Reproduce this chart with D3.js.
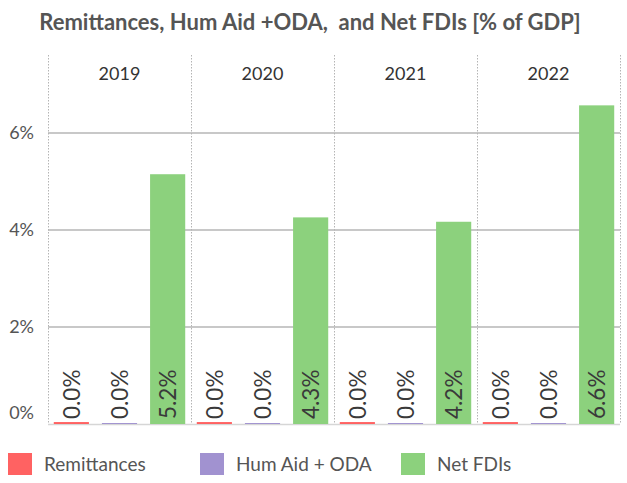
<!DOCTYPE html>
<html>
<head>
<meta charset="utf-8">
<script src="https://cdn.jsdelivr.net/npm/d3@7"></script>
<style>
  body { margin: 0; background: #fff; }
  svg { display: block; font-family: Lato, "Open Sans", sans-serif; }
</style>
</head>
<body>
<svg id="chart" width="627" height="483"></svg>
<script>
// Data: share of GDP (%) by year
const years = ["2019", "2020", "2021", "2022"];
const seriesNames = ["Remittances", "Hum Aid + ODA", "Net FDIs"];
const remittances = [0.04, 0.04, 0.04, 0.04];
const humAidOda = [0.02, 0.02, 0.02, 0.02];
const netFdis = [5.15, 4.26, 4.17, 6.57];
const yTicks = [0, 2, 4, 6];
const colors = ["#ff6262", "#a192d0", "#8cd17d"];

const seriesValues = [remittances, humAidOda, netFdis];
const svg = d3.select("#chart");

const margin = { left: 48, right: 7, top: 55, bottom: 59 };
const W = 627, H = 483;
const plotBottom = H - margin.bottom; // 424

// Title
svg.append("text")
  .attr("x", 310).attr("y", 30)
  .attr("text-anchor", "middle")
  .attr("font-size", 22).attr("font-weight", 700)
  .attr("fill", "#555")
  .style("white-space", "pre")
  .text("Remittances, Hum Aid +ODA,  and Net FDIs [% of GDP]");

const x0 = d3.scaleBand().domain(years).range([margin.left, W - margin.right]).padding(0);
const x1 = d3.scaleBand().domain(seriesNames).range([0, x0.bandwidth()]).paddingInner(0.27).paddingOuter(0.12);
const y = d3.scaleLinear().domain([0, 6.2]).range([plotBottom, plotBottom - 6.2 * 48.5]);

// Horizontal gridlines
svg.append("g").selectAll("line").data(yTicks.filter(d => d > 0)).join("line")
  .attr("x1", margin.left).attr("x2", W - margin.right)
  .attr("y1", d => y(d)).attr("y2", d => y(d))
  .attr("stroke", "#c8c8c8").attr("stroke-width", 2);

// Baseline
svg.append("line")
  .attr("x1", margin.left).attr("x2", W - margin.right)
  .attr("y1", plotBottom + 0.5).attr("y2", plotBottom + 0.5)
  .attr("stroke", "#d6d6d6").attr("stroke-width", 1.5);

// Panel dividers (dotted)
const dividers = years.map(yr => x0(yr)).concat([x0(years[years.length - 1]) + x0.bandwidth()]);
svg.append("g").selectAll("line").data(dividers).join("line")
  .attr("x1", d => Math.round(d) + 0.5).attr("x2", d => Math.round(d) + 0.5)
  .attr("y1", margin.top).attr("y2", plotBottom)
  .attr("stroke", "#b4b4b4").attr("stroke-width", 1).attr("stroke-dasharray", "1.5,1.5");

// Year headers
svg.append("g").selectAll("text").data(years).join("text")
  .attr("x", d => x0(d) + x0.bandwidth() / 2)
  .attr("y", 80)
  .attr("text-anchor", "middle")
  .attr("font-size", 18).attr("fill", "#333")
  .text(d => d);

// Y axis labels
const yAxis = d3.axisLeft(y).tickValues(yTicks).tickFormat(d => d + "%").tickSize(0).tickPadding(14);
const gy = svg.append("g").attr("transform", `translate(${margin.left},0)`).call(yAxis);
gy.select(".domain").remove();
gy.selectAll("text").attr("font-size", 18).attr("fill", "#555").attr("font-family", "Lato, 'Open Sans', sans-serif");
gy.selectAll(".tick").filter(d => d === 0).select("text").attr("dy", "-0.3em");

// Bars and labels
const rows = [];
years.forEach((yr, i) => {
  seriesNames.forEach((s, j) => rows.push({ year: yr, series: s, value: seriesValues[j][i], color: colors[j] }));
});

const g = svg.append("g");
g.selectAll("rect").data(rows).join("rect")
  .attr("x", d => x0(d.year) + x1(d.series))
  .attr("width", x1.bandwidth())
  .attr("y", d => y(d.value))
  .attr("height", d => Math.max(0, plotBottom - y(d.value)))
  .attr("fill", d => d.color);

g.selectAll("text").data(rows).join("text")
  .attr("transform", d => `translate(${x0(d.year) + x1(d.series) + x1.bandwidth() / 2 + 8.5},${plotBottom - 5}) rotate(-90)`)
  .attr("text-anchor", "start")
  .attr("font-size", 22.5).attr("fill", "#3a3a3a")
  .text(d => d.value.toFixed(1) + "%");

// Legend
const legendX = [8, 200, 401];
const lg = svg.append("g").selectAll("g").data(seriesNames).join("g")
  .attr("transform", (d, i) => `translate(${legendX[i]},453)`);
lg.append("rect").attr("width", 24).attr("height", 22).attr("fill", (d, i) => colors[i]);
lg.append("text").attr("x", 36).attr("y", 18)
  .attr("font-size", 19).attr("fill", "#555").text(d => d);
</script>
</body>
</html>
